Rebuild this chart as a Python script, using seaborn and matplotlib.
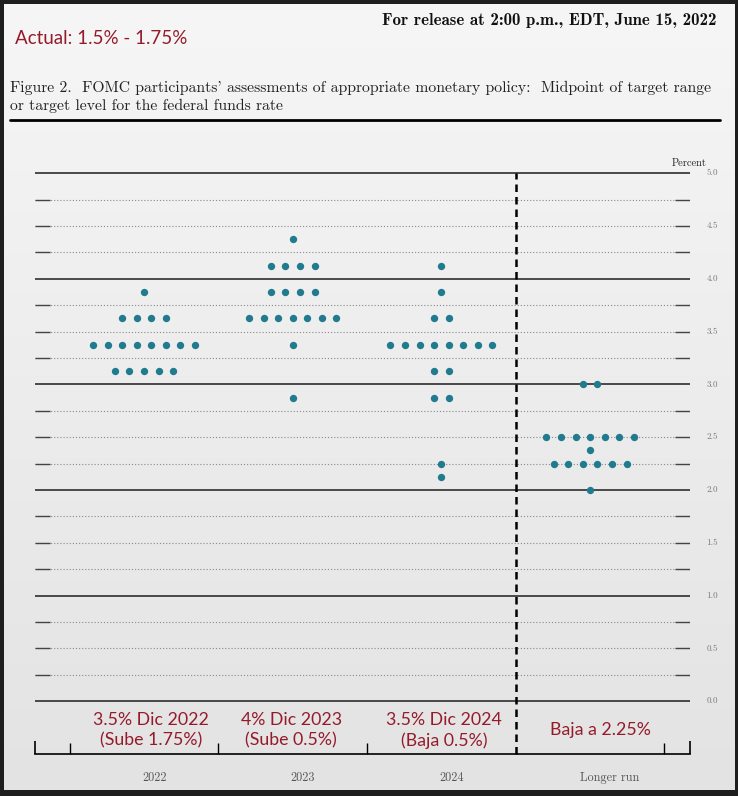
import numpy as np
import pandas as pd
import matplotlib
matplotlib.use("Agg")
import matplotlib.pyplot as plt
from matplotlib.lines import Line2D
import seaborn as sns

# Horizontes del gráfico de puntos (FOMC, junio 2022)
horizons = ["2022", "2023", "2024", "Longer run"]

rates_2022 = [3.875, 3.625, 3.375, 3.125]
counts_2022 = [1, 4, 8, 5]

rates_2023 = [4.375, 4.125, 3.875, 3.625, 3.375, 2.875]
counts_2023 = [1, 4, 4, 7, 1, 1]

rates_2024 = [4.125, 3.875, 3.625, 3.375, 3.125, 2.875, 2.25, 2.125]
counts_2024 = [1, 1, 2, 8, 2, 2, 1, 1]

rates_longer = [3.0, 2.5, 2.375, 2.25, 2.0]
counts_longer = [2, 7, 1, 6, 1]

notes = ["3.5% Dic 2022\n(Sube 1.75%)", "4% Dic 2023\n(Sube 0.5%)",
         "3.5% Dic 2024\n(Baja 0.5%)", "Baja a 2.25%"]
percent_ticks = [0.0, 0.5, 1.0, 1.5, 2.0, 2.5, 3.0, 3.5, 4.0, 4.5, 5.0]

release_text = "For release at 2:00 p.m., EDT, June 15, 2022"
actual_text = "Actual: 1.5% - 1.75%"
caption_1 = ("Figure 2.  FOMC participants' assessments of appropriate "
             "monetary policy:  Midpoint of target range")
caption_2 = "or target level for the federal funds rate"

# --- layout ---
W, H = 738, 796
DOT_STEP = 0.098
XMIN, XMAX = -0.733, 3.672
TEAL = "#217b8f"
RED = "#951b2b"


def fx(px):
    return px / W


def fy(py):
    return 1 - py / H


all_rates = [rates_2022, rates_2023, rates_2024, rates_longer]
all_counts = [counts_2022, counts_2023, counts_2024, counts_longer]

rows = []
for col, (rates, counts) in enumerate(zip(all_rates, all_counts)):
    for r, n in zip(rates, counts):
        for k in range(n):
            rows.append({"horizon": horizons[col],
                         "x": col + (k - (n - 1) / 2) * DOT_STEP,
                         "rate": r})
df = pd.DataFrame(rows)

sns.set_style("white")
fig = plt.figure(figsize=(W / 100, H / 100), dpi=100)
fig.patch.set_facecolor("#1e1e1e")

# fondo gris claro con degradado
bg = fig.add_axes([fx(4), 6 / H, 730 / W, 786 / H])
grad = np.linspace(0, 1, 256).reshape(-1, 1)
bg.imshow(grad, aspect="auto", cmap=matplotlib.colors.LinearSegmentedColormap.from_list(
    "g", ["#f6f6f6", "#e3e3e3"]), extent=[0, 1, 0, 1])
bg.axis("off")

ax = fig.add_axes([fx(35), (H - 754) / H, 655 / W, 580.8 / H])
ax.set_facecolor("none")
ax.set_xlim(XMIN, XMAX)
ax.set_ylim(-0.5, 5.0)

# líneas horizontales
for v in np.arange(0, 5.01, 0.25):
    if abs(v - round(v)) < 1e-9:
        ax.hlines(v, XMIN, XMAX, color="#2e2e2e", lw=1.2, zorder=1, clip_on=False)
    else:
        ax.hlines(v, XMIN, XMAX, color="#8a8a8a", lw=0.8,
                  linestyles=(0, (1, 1.8)), zorder=1)
        ax.hlines(v, XMIN, XMIN + 0.1, color="#444444", lw=1.0, zorder=1)
        ax.hlines(v, XMAX - 0.1, XMAX, color="#444444", lw=1.0, zorder=1)

ax.vlines(2.5, -0.5, 5.0, color="black", lw=1.8, linestyles=(0, (3, 2)),
          zorder=2, clip_on=False)

sns.scatterplot(data=df, x="x", y="rate", ax=ax, color=TEAL, s=28,
                linewidth=0, zorder=3, legend=False)

for s in ["left", "right", "top"]:
    ax.spines[s].set_visible(False)
ax.spines["bottom"].set_linewidth(1.2)
ax.spines["bottom"].set_color("black")
ax.set_xticks([-0.5, 0.5, 1.5, 3.5])
ax.set_xticklabels([])
ax.set_yticks([])
ax.tick_params(axis="x", direction="in", length=8, width=1.0, color="black", bottom=True)
ax.vlines([XMIN + 0.003, XMAX - 0.003], -0.5, -0.5 + 13 / 105.6, color="black",
          lw=1.2, clip_on=False)
ax.set_xlabel("")
ax.set_ylabel("")

# etiquetas derechas
for t in percent_ticks:
    ax.text(XMAX + 0.15, t, f"{t:.1f}", ha="center", va="center",
            fontsize=6.5, color="#7a7a7a", family="cmr10", clip_on=False)
ax.text(3.665, 5.095, "Percent", ha="center", va="center", fontsize=7.5,
        color="#222222", family="cmr10", clip_on=False)

label_shift = [0.07, 0.07, 0.07, 0.13]
for i, name in enumerate(horizons):
    ax.text(i + label_shift[i], -0.73, name, ha="center", va="center",
            fontsize=8.8, color="#555555", family="cmr10", clip_on=False)

note_shift = [0.05, -0.01, 0.02, 0.07]
for i, note in enumerate(notes):
    ax.text(i + note_shift[i], -0.275, note, ha="center", va="center",
            fontsize=12.8, color=RED, family="Lato", linespacing=1.3,
            clip_on=False)

# encabezado
fig.text(fx(716), fy(20), release_text, ha="right", va="center",
         fontsize=12.1, family="cmb10", color="#111111")
fig.text(fx(15), fy(38), actual_text, ha="left", va="center",
         fontsize=13.5, family="Lato", color=RED)
fig.text(fx(10), fy(88), caption_1, ha="left", va="center",
         fontsize=11.3, family="cmr10", color="#222222")
fig.text(fx(10), fy(106), caption_2, ha="left", va="center",
         fontsize=11.3, family="cmr10", color="#222222")
fig.add_artist(Line2D([fx(10), fx(720)], [fy(120), fy(120)], color="black", lw=2))

fig.savefig("out.png", dpi=100, facecolor=fig.get_facecolor())
